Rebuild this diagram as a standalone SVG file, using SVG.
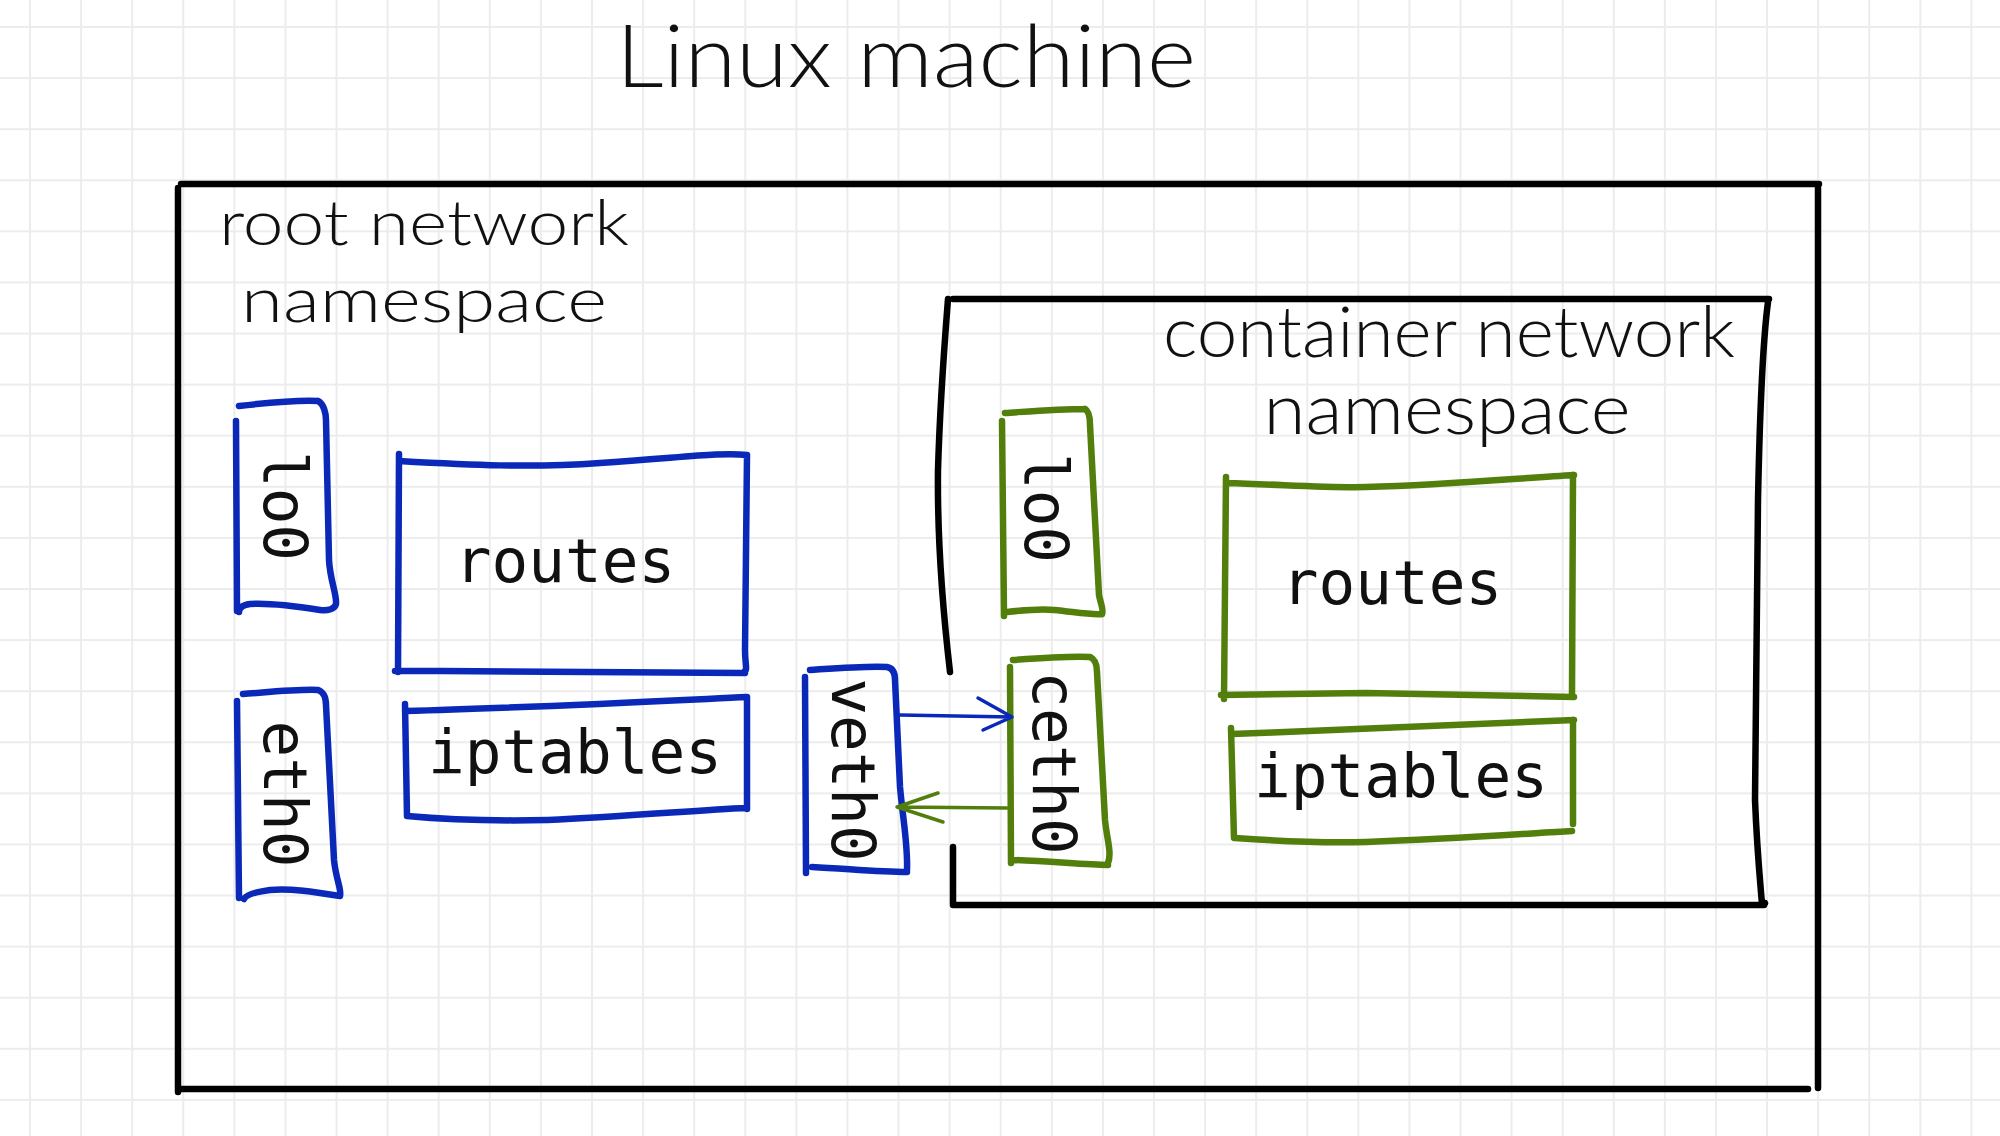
<svg xmlns="http://www.w3.org/2000/svg" width="2000" height="1136" viewBox="0 0 2000 1136">
  <defs>
    <pattern id="grid" patternUnits="userSpaceOnUse" x="4.455" y="1.455" width="51.09" height="51.09">
      <path d="M25.545 0 V51.09 M0 25.545 H51.09" stroke="#ececec" stroke-width="2" fill="none"/>
    </pattern>
    <style>
      .hand { font-family: "Lato", "Noto Sans", "Liberation Sans", sans-serif; font-weight: 300; fill: #111; }
      .mono { font-family: "DejaVu Sans Mono", "Liberation Mono", monospace; font-size: 61px; fill: #111; }
      .rot { text-anchor: middle; dominant-baseline: central; }
      .blk { fill: none; stroke: #000; stroke-width: 6.5; stroke-linecap: round; stroke-linejoin: round; }
      .blue { fill: none; stroke: #0b29b8; stroke-width: 6.5; stroke-linecap: round; stroke-linejoin: round; }
      .green { fill: none; stroke: #527f0c; stroke-width: 6.5; stroke-linecap: round; stroke-linejoin: round; }
      .arrow-blue { fill: none; stroke: #0b29b8; stroke-width: 3.5; stroke-linecap: round; stroke-linejoin: round; }
      .arrow-green { fill: none; stroke: #527f0c; stroke-width: 3.5; stroke-linecap: round; stroke-linejoin: round; }
    </style>
  </defs>

  <rect x="0" y="0" width="2000" height="1136" fill="#ffffff"/>
  <rect x="0" y="0" width="2000" height="1136" fill="url(#grid)"/>

  <g id="title">
    <text class="hand" x="616" y="87" font-size="86" textLength="580" lengthAdjust="spacingAndGlyphs">Linux machine</text>
  </g>

  <g id="linux-machine">
    <path class="blk" d="M181,184 L1819,184 M1818,188 L1818,1088 M181,1089 L1808,1089 M178,188 L178,1092"/>
  </g>

  <g id="root-namespace-label">
    <text class="hand" x="424" y="245" font-size="64" text-anchor="middle" textLength="410" lengthAdjust="spacingAndGlyphs">root network</text>
    <text class="hand" x="424" y="322" font-size="64" text-anchor="middle" textLength="366" lengthAdjust="spacingAndGlyphs">namespace</text>
  </g>

  <g id="container-namespace">
    <path class="blk" d="M953,299 L1769,299 M1768,302 C1763,340 1760,400 1758,500 L1755,800 C1757,850 1760,880 1762,904 L1765,903 M948,299 C944,350 940,400 938,470 C937,550 944,620 950,672 M953,847 L953,904 M953,905 L1764,905"/>
    <text class="hand" x="1449" y="357" font-size="70" text-anchor="middle" textLength="572" lengthAdjust="spacingAndGlyphs">container network</text>
    <text class="hand" x="1447" y="434" font-size="70" text-anchor="middle" textLength="367" lengthAdjust="spacingAndGlyphs">namespace</text>
  </g>

  <g id="root-lo0">
    <path class="blue" d="M239,406 C265,403 295,400 318,401 M318,401 C324,404 326,414 326,420 L329,560 C330,580 337,595 336,604 C335,609 328,611 320,610 M320,610 C295,606 265,603 250,604 C243,605 239,608 239,612 M236,421 L237,611"/>
    <text class="mono rot" transform="translate(285,506) rotate(90)">lo0</text>
  </g>

  <g id="root-eth0">
    <path class="blue" d="M243,694 C270,692 300,689 318,690 M318,690 C324,692 326,697 326,705 L334,860 C336,880 342,890 340,896 M340,896 C315,892 290,888 270,890 C255,892 246,895 244,899 M237,701 L239,898"/>
    <text class="mono rot" transform="translate(285,794) rotate(90)">eth0</text>
  </g>

  <g id="root-routes">
    <path class="blue" d="M399,454 L398,672 M399,461 C470,465 530,468 600,463 C680,458 720,452 747,455 M747,455 L745,650 C745,665 748,670 744,672 M395,671 C520,671 650,672 745,673"/>
    <text class="mono" x="565" y="582" text-anchor="middle">routes</text>
  </g>

  <g id="root-iptables">
    <path class="blue" d="M405,704 L407,816 M405,711 C520,708 640,702 747,697 M747,697 L747,809 M407,816 C450,820 500,821 548,820 C620,817 700,810 745,808"/>
    <text class="mono" x="575" y="773" text-anchor="middle">iptables</text>
  </g>

  <g id="veth0">
    <path class="blue" d="M810,670 C840,668 865,666 887,667 M887,667 C893,668 895,673 895,680 L900,787 C903,820 908,845 907,870 M812,867 C850,869 880,872 907,872 M805,677 L806,873"/>
    <text class="mono rot" transform="translate(853,770) rotate(90)">veth0</text>
  </g>

  <g id="ceth0">
    <path class="green" d="M1013,660 C1040,658 1070,656 1090,657 M1090,657 C1095,659 1097,664 1097,672 L1105,820 C1107,840 1112,853 1108,863 M1013,860 C1050,861 1085,865 1108,865 M1010,667 L1011,863"/>
    <text class="mono rot" transform="translate(1054,763) rotate(90)">ceth0</text>
  </g>

  <g id="container-lo0">
    <path class="green" d="M1005,413 C1035,411 1060,409 1085,409 M1085,409 C1089,411 1090,417 1090,425 L1099,595 C1101,605 1104,610 1102,614 M1007,612 C1025,610 1045,609 1054,610 C1075,612 1090,615 1102,614 M1002,421 L1004,616"/>
    <text class="mono rot" transform="translate(1046,508) rotate(90)">lo0</text>
  </g>

  <g id="container-routes">
    <path class="green" d="M1226,477 L1224,699 M1226,483 C1290,485 1330,488 1366,487 C1450,485 1520,478 1574,475 M1573,475 L1572,697 M1221,695 C1300,694 1340,693 1366,693 C1450,694 1520,696 1574,697"/>
    <text class="mono" x="1392" y="604" text-anchor="middle">routes</text>
  </g>

  <g id="container-iptables">
    <path class="green" d="M1231,728 L1234,838 M1232,734 C1350,730 1470,724 1574,720 M1573,720 L1573,824 M1235,838 C1290,842 1330,843 1366,842 C1450,839 1520,834 1572,831"/>
    <text class="mono" x="1401" y="797" text-anchor="middle">iptables</text>
  </g>

  <g id="connectors">
    <path class="arrow-blue" d="M900,715 L1012,717 M978,698 L1012,717 L983,730"/>
    <path class="arrow-green" d="M1007,808 L897,807 M938,793 L897,807 L943,822"/>
  </g>
</svg>
